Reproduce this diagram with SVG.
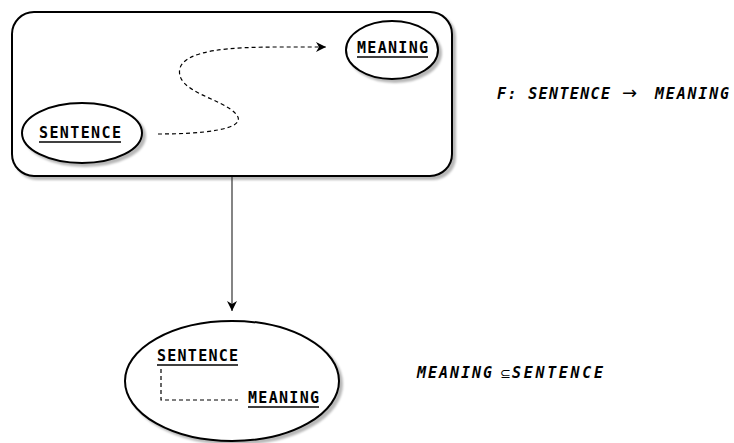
<svg xmlns="http://www.w3.org/2000/svg" width="734" height="443" viewBox="0 0 734 443">
  <defs>
    <filter id="shadow" x="-10%" y="-10%" width="130%" height="130%">
      <feOffset in="SourceAlpha" dx="3" dy="3" result="off"/>
      <feGaussianBlur in="off" stdDeviation="1" result="blur"/>
      <feFlood flood-color="#000" flood-opacity="0.28"/>
      <feComposite operator="in" in2="blur" result="sh"/>
      <feMerge><feMergeNode in="sh"/><feMergeNode in="SourceGraphic"/></feMerge>
    </filter>
    <marker id="head" viewBox="0 0 10 10" refX="10" refY="5" markerWidth="10" markerHeight="10" markerUnits="userSpaceOnUse" orient="auto">
      <path d="M0,0 L10,5 L0,10 L3,5 Z" fill="#000"/>
    </marker>
  </defs>
  <style>
    .box { fill: #fff; stroke: #000; stroke-width: 2; }
    .lbl { font-family: "DejaVu Sans Mono", "Liberation Mono", monospace; font-weight: bold; font-size: 15px; fill: #000; }
    .ul { stroke: #000; stroke-width: 1.5; }
    .formula { font-family: "DejaVu Sans Mono", "Liberation Mono", monospace; font-weight: bold; font-style: italic; font-size: 15px; fill: #000; }
    .sym { font-family: "DejaVu Sans", sans-serif; fill: #000; }
    .dash { fill: none; stroke: #000; stroke-width: 1.2; stroke-dasharray: 4 3; }
  </style>

  <g id="container">
    <rect class="box" x="12" y="12" width="440" height="164" rx="22" filter="url(#shadow)"/>
  </g>

  <g id="sentence">
    <ellipse class="box" cx="82" cy="133" rx="60" ry="30" filter="url(#shadow)"/>
    <text class="lbl" x="39" y="138" textLength="82" lengthAdjust="spacing">SENTENCE</text>
    <line class="ul" x1="39" y1="142" x2="121" y2="142"/>
  </g>

  <g id="meaning">
    <ellipse class="box" cx="392" cy="50" rx="46" ry="29" filter="url(#shadow)"/>
    <text class="lbl" x="357" y="53" textLength="71" lengthAdjust="spacing">MEANING</text>
    <line class="ul" x1="357" y1="57" x2="428" y2="57"/>
  </g>

  <g id="subset">
    <ellipse class="box" cx="232" cy="381" rx="107" ry="60" filter="url(#shadow)"/>
    <text class="lbl" x="157" y="361" textLength="81" lengthAdjust="spacing">SENTENCE</text>
    <line class="ul" x1="157" y1="365" x2="238" y2="365"/>
    <text class="lbl" x="248" y="403" textLength="71" lengthAdjust="spacing">MEANING</text>
    <line class="ul" x1="248" y1="407" x2="319" y2="407"/>
    <path class="dash" d="M161,369 L161,400 L238,400"/>
  </g>

  <g id="connectors">
    <path class="dash" d="M158,134 C200,134 250,130 236,114 C222,98 174,92 180,68 C186,50 230,47 280,47 L326,47" marker-end="url(#head)"/>
    <line x1="232" y1="177" x2="232" y2="311" stroke="#333" stroke-width="1.2" marker-end="url(#head)"/>
  </g>

  <g id="notes">
    <text class="formula" x="497" y="99" textLength="113" lengthAdjust="spacing">F: SENTENCE</text>
    <text class="sym" x="622" y="99" font-size="18">→</text>
    <text class="formula" x="655" y="99" textLength="74" lengthAdjust="spacing">MEANING</text>
    <text class="formula" x="417" y="378" textLength="75" lengthAdjust="spacing">MEANING</text>
    <text class="sym" x="500" y="378" font-size="13">⊆</text>
    <text class="formula" x="512" y="378" textLength="91" lengthAdjust="spacing">SENTENCE</text>
  </g>
</svg>
